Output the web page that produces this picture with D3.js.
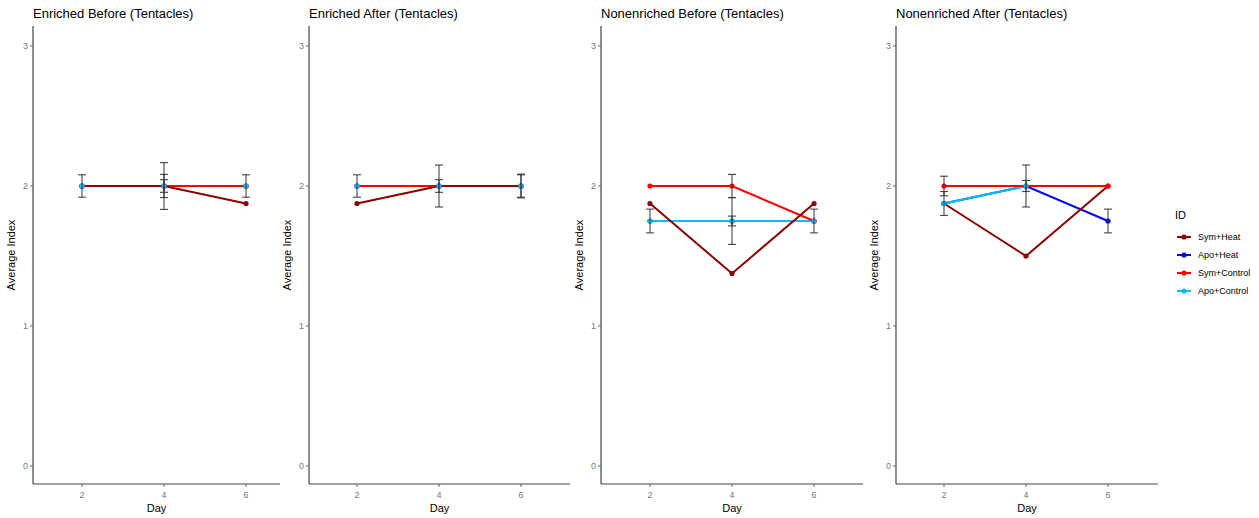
<!DOCTYPE html>
<html>
<head>
<meta charset="utf-8">
<script src="https://cdn.jsdelivr.net/npm/d3@7"></script>
<style>
	body { margin: 0; background: #fff; }
	svg { font-family: "Liberation Sans", Arial, sans-serif; }
</style>
</head>
<body>
<script>
let days = [2, 4, 6]
let yTicks = [0, 1, 2, 3]
let seriesNames = ['Sym+Heat', 'Apo+Heat', 'Sym+Control', 'Apo+Control']
let seriesColors = ['#8B0000', '#0000FF', '#FF0000', '#00BFFF']
let panelTitles = ['Enriched Before (Tentacles)', 'Enriched After (Tentacles)', 'Nonenriched Before (Tentacles)', 'Nonenriched After (Tentacles)']

// values per panel, one array per series (order of seriesNames)
let enrichedBefore = [[2, 2, 1.875], [2, 2, 2], [2, 2, 2], [2, 2, 2]]
let enrichedAfter = [[1.875, 2, 2], [2, 2, 2], [2, 2, 2], [2, 2, 2]]
let nonenrichedBefore = [[1.875, 1.375, 1.875], [1.75, 1.75, 1.75], [2, 2, 1.75], [1.75, 1.75, 1.75]]
let nonenrichedAfter = [[1.875, 1.5, 2], [1.875, 2, 1.75], [2, 2, 2], [1.875, 2, null]]

// standard errors, same layout (0 = no bar)
let enrichedBeforeErr = [[0.08, 0.167, 0], [0, 0.083, 0.08], [0, 0.045, 0], [0, 0, 0]]
let enrichedAfterErr = [[0, 0.15, 0.08], [0.08, 0.045, 0.085], [0, 0, 0], [0, 0, 0]]
let nonenrichedBeforeErr = [[0, 0, 0], [0.085, 0.167, 0.085], [0, 0.083, 0], [0, 0.035, 0]]
let nonenrichedAfterErr = [[0, 0, 0], [0.085, 0.15, 0.085], [0.07, 0.04, 0], [0, 0, 0]]

let panelValues = [enrichedBefore, enrichedAfter, nonenrichedBefore, nonenrichedAfter]
let panelErrors = [enrichedBeforeErr, enrichedAfterErr, nonenrichedBeforeErr, nonenrichedAfterErr]

// panel layout (pixels)
let panels = [
	{left: 33, right: 280, x2: 82, x6: 246},
	{left: 309, right: 570, x2: 357, x6: 521},
	{left: 601, right: 863, x2: 650, x6: 814},
	{left: 896, right: 1158, x2: 944, x6: 1108}
]
let plotTop = 26, plotBottom = 484

let svg = d3.select('body').append('svg')
	.attr('width', 1259).attr('height', 518)

let y = d3.scaleLinear().domain([0, 3]).range([466, 46])

// lines are stacked in this order, points in legend order
let lineOrder = [1, 3, 2, 0]

panels.forEach(function(p, pi) {
	let x = d3.scaleLinear().domain([2, 6]).range([p.x2, p.x6])
	let g = svg.append('g')
	let vals = panelValues[pi]
	let errs = panelErrors[pi]

	g.append('text')
		.attr('x', p.left).attr('y', 18)
		.attr('font-size', '13px').attr('fill', '#000')
		.text(panelTitles[pi])

	// axes
	g.append('line')
		.attr('x1', p.left).attr('x2', p.left)
		.attr('y1', plotTop).attr('y2', plotBottom)
		.attr('stroke', '#444').attr('stroke-width', 1.2)
	g.append('line')
		.attr('x1', p.left).attr('x2', p.right)
		.attr('y1', plotBottom).attr('y2', plotBottom)
		.attr('stroke', '#444').attr('stroke-width', 1.2)

	for (let t of yTicks) {
		g.append('line')
			.attr('x1', p.left - 3).attr('x2', p.left)
			.attr('y1', y(t)).attr('y2', y(t))
			.attr('stroke', '#666')
		g.append('text')
			.attr('x', p.left - 5).attr('y', y(t) + 3)
			.attr('text-anchor', 'end')
			.attr('font-size', '9px').attr('fill', '#777')
			.text(t)
	}
	for (let d of days) {
		g.append('line')
			.attr('x1', x(d)).attr('x2', x(d))
			.attr('y1', plotBottom).attr('y2', plotBottom + 3)
			.attr('stroke', '#666')
		g.append('text')
			.attr('x', x(d)).attr('y', plotBottom + 14)
			.attr('text-anchor', 'middle')
			.attr('font-size', '9px').attr('fill', '#777')
			.text(d)
	}
	g.append('text')
		.attr('x', (p.left + p.right) / 2).attr('y', plotBottom + 28)
		.attr('text-anchor', 'middle')
		.attr('font-size', '11px').attr('fill', '#000')
		.text('Day')
	g.append('text')
		.attr('transform', `translate(${p.left - 18},${(plotTop + plotBottom) / 2}) rotate(-90)`)
		.attr('text-anchor', 'middle')
		.attr('font-size', '11px').attr('fill', '#000')
		.text('Average Index')

	let line = d3.line()
		.defined(d => d[1] !== null)
		.x(d => x(d[0])).y(d => y(d[1]))

	for (let s of lineOrder) {
		let pts = days.map((d, i) => [d, vals[s][i]])
		g.append('path')
			.attr('d', line(pts))
			.attr('fill', 'none')
			.attr('stroke', seriesColors[s]).attr('stroke-width', 2)
	}

	for (let s = 0; s < seriesNames.length; s++) {
		days.forEach(function(d, i) {
			if (vals[s][i] === null) return
			g.append('circle')
				.attr('cx', x(d)).attr('cy', y(vals[s][i])).attr('r', 2.6)
				.attr('fill', seriesColors[s])
		})
	}

	for (let s = 0; s < seriesNames.length; s++) {
		days.forEach(function(d, i) {
			let v = vals[s][i], e = errs[s][i]
			if (v === null || !e) return
			let eg = g.append('g').attr('stroke', '#333').attr('stroke-width', 1)
			eg.append('line')
				.attr('x1', x(d)).attr('x2', x(d))
				.attr('y1', y(v - e)).attr('y2', y(v + e))
			eg.append('line')
				.attr('x1', x(d) - 4).attr('x2', x(d) + 4)
				.attr('y1', y(v - e)).attr('y2', y(v - e))
			eg.append('line')
				.attr('x1', x(d) - 4).attr('x2', x(d) + 4)
				.attr('y1', y(v + e)).attr('y2', y(v + e))
		})
	}
})

// legend
let legend = svg.append('g')
legend.append('text')
	.attr('x', 1175).attr('y', 219)
	.attr('font-size', '11px').attr('fill', '#000')
	.text('ID')
seriesNames.forEach(function(name, i) {
	let ly = 237 + i * 18
	legend.append('line')
		.attr('x1', 1177).attr('x2', 1191)
		.attr('y1', ly).attr('y2', ly)
		.attr('stroke', seriesColors[i]).attr('stroke-width', 2)
	legend.append('circle')
		.attr('cx', 1184).attr('cy', ly).attr('r', 2.6)
		.attr('fill', seriesColors[i])
	legend.append('text')
		.attr('x', 1198).attr('y', ly + 3)
		.attr('font-size', '9px').attr('fill', '#000')
		.text(name)
})
</script>
</body>
</html>
